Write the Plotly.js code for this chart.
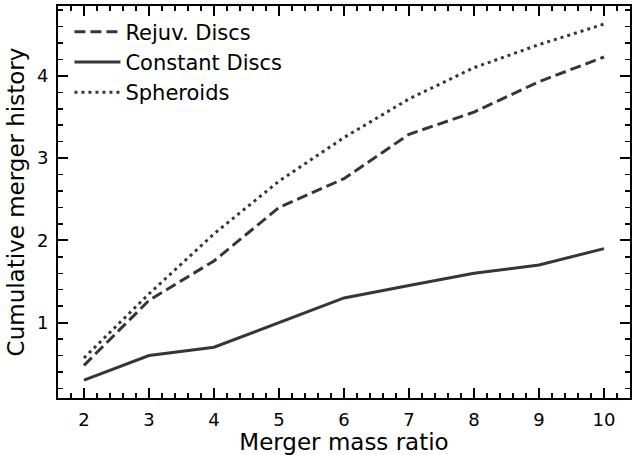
<!DOCTYPE html>
<html>
<head>
<meta charset="utf-8">
<script src="https://cdn.plot.ly/plotly-3.0.1.min.js"></script>
<style>html,body{margin:0;padding:0;background:#fff;}#chart{width:632px;height:455px;}</style>
</head>
<body>
<div id="chart"></div>
<script>
const massRatio = [2, 3, 4, 5, 6, 7, 8, 9, 10];
const rejuvDiscs = [0.48, 1.27, 1.75, 2.40, 2.75, 3.29, 3.56, 3.93, 4.23];
const constantDiscs = [0.30, 0.60, 0.70, 1.00, 1.30, 1.45, 1.60, 1.70, 1.90];
const spheroids = [0.57, 1.35, 2.08, 2.72, 3.25, 3.72, 4.10, 4.38, 4.63];
const seriesNames = ["Rejuv. Discs", "Constant Discs", "Spheroids"];

const col = "#363636";
const font = "DejaVu Sans, sans-serif";

const traces = [
  {x: massRatio, y: rejuvDiscs, name: seriesNames[0], legendgroup: "a", mode: "lines",
   line: {color: col, width: 3, dash: "11px,5px"}},
  {x: massRatio, y: constantDiscs, name: seriesNames[1], legendgroup: "b", mode: "lines",
   line: {color: col, width: 3}},
  {x: massRatio, y: spheroids, name: seriesNames[2], legendgroup: "c", mode: "lines",
   line: {color: col, width: 3, dash: "3px,4px"}}
];

const axisCommon = {
  showline: true, mirror: "ticks", linecolor: "#000", linewidth: 2,
  ticks: "inside", ticklen: 10, tickwidth: 2, tickcolor: "#000",
  showgrid: false, zeroline: false,
  tickfont: {family: font, size: 18, color: "#000"},
  ticklabelstandoff: 4,
  minor: {ticks: "inside", ticklen: 5, tickwidth: 1.5, tickcolor: "#000", dtick: 0.2, showgrid: false}
};

const layout = {
  width: 632, height: 455,
  margin: {l: 58, r: 2, t: 6, b: 57},
  paper_bgcolor: "#fff", plot_bgcolor: "#fff",
  font: {family: font, color: "#000"},
  showlegend: true,
  legend: {x: 0.02, y: 0.986, xanchor: "left", yanchor: "top",
           bgcolor: "rgba(0,0,0,0)", font: {family: font, size: 21, color: "#000"},
           traceorder: "grouped", tracegroupgap: 0, itemwidth: 46},
  xaxis: Object.assign({}, axisCommon, {
    range: [1.6, 10.4], dtick: 1, tick0: 0,
    title: {text: "Merger mass ratio", font: {family: font, size: 23, color: "#000"}, standoff: 4}
  }),
  yaxis: Object.assign({}, axisCommon, {
    range: [0.083, 4.85], dtick: 1, tick0: 0,
    title: {text: "Cumulative merger history", font: {family: font, size: 23, color: "#000"}, standoff: 6}
  })
};

Plotly.newPlot("chart", traces, layout, {displayModeBar: false, staticPlot: true});
</script>
</body>
</html>
